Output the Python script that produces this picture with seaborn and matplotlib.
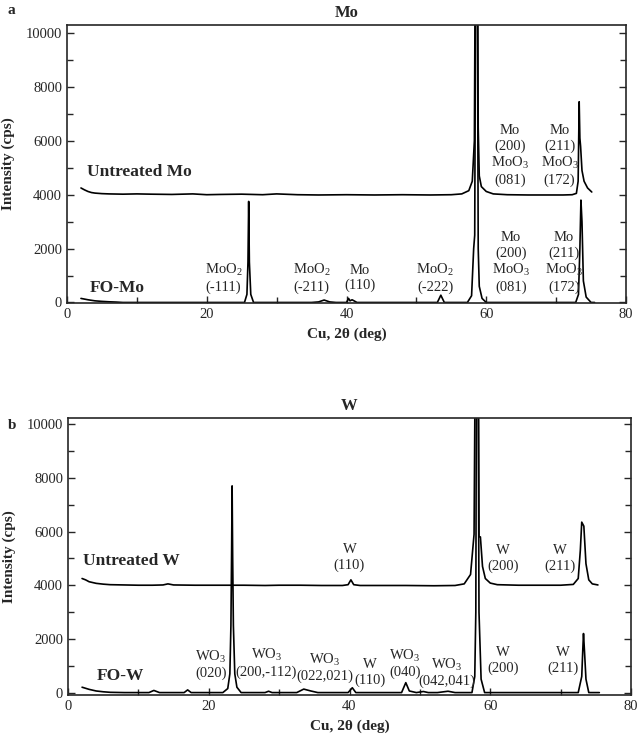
import numpy as np
import pandas as pd
import seaborn as sns
import matplotlib.pyplot as plt
from matplotlib.ticker import MultipleLocator

# XRD traces (2theta in deg, intensity in cps)
mo_raw_x = [2.0, 2.5, 3.0, 3.5, 4.0, 5.0, 6.0, 8.0, 10.0, 12.0, 15.0, 18.0, 20.0, 22.0, 25.0, 28.0, 30.0,
            33.0, 36.0, 40.0, 44.0, 48.0, 52.0, 55.0, 56.5, 57.5, 58.0, 58.3, 58.45, 58.55, 58.75, 58.85,
            59.0, 59.3, 60.0, 61.0, 63.0, 66.0, 69.0, 71.0, 72.3, 72.9, 73.15, 73.3, 73.4, 73.5, 73.7,
            74.0, 74.5, 75.1]
mo_raw_y = [4250, 4180, 4120, 4080, 4060, 4040, 4030, 4020, 4030, 4020, 4010, 4030, 4000, 4010, 4020, 4000, 4030,
            4000, 3990, 4000, 3990, 4000, 3990, 4000, 4030, 4150, 4500, 6000, 14000, 14000, 14000, 6500,
            4700, 4300, 4120, 4030, 4000, 3990, 3990, 3990, 4000, 4050, 4500, 7450, 6100, 5800, 4900,
            4500, 4250, 4100]

mo_fo_x = [2.0, 3.0, 4.0, 5.0, 6.0, 7.0, 8.0, 10.0, 15.0, 20.0, 24.0, 25.4, 25.75, 25.9, 26.0, 26.1, 26.3,
           26.7, 30.0, 35.0, 36.0, 36.8, 37.6, 38.5, 40.0, 40.3, 40.5, 40.8, 41.5, 45.0, 50.0, 53.0, 53.5,
           54.0, 56.0, 57.3, 57.9, 58.2, 58.35, 58.5, 58.7, 58.85, 59.0, 59.4, 60.0, 61.0, 65.0, 70.0,
           72.8, 73.2, 73.4, 73.55, 73.7, 73.9, 74.3, 75.0, 75.5]
mo_fo_y = [150, 100, 60, 40, 25, 15, 0, 0, 0, 0, 0, 0, 300, 1500, 3750, 1500, 300,
           0, 0, 0, 20, 90, 20, 0, 0, 150, 60, 100, 0, 0, 0, 0, 270,
           0, 0, 0, 250, 2000, 2500, 14000, 14000, 2000, 600, 150, 0, 0, 0, 0,
           0, 300, 2000, 3800, 3000, 800, 200, 0, 0]

w_raw_x = [2.0, 2.5, 3.0, 4.0, 5.0, 6.0, 8.0, 10.0, 12.0, 13.5, 14.2, 15.0, 18.0, 20.0, 22.0, 23.0, 25.0,
           28.0, 30.0, 33.0, 36.0, 39.0, 39.8, 40.2, 40.6, 41.5, 44.0, 48.0, 52.0, 55.0, 56.3, 57.2, 57.7,
           57.9, 58.0, 58.3, 58.4, 58.6, 58.9, 59.3, 60.0, 61.0, 64.0, 67.0, 70.0, 71.8, 72.5, 72.8, 73.0,
           73.3, 73.6, 74.0, 74.5, 75.3]
w_raw_y = [4250, 4200, 4130, 4070, 4040, 4020, 4010, 4000, 4000, 4010, 4050, 4010, 4000, 4000, 4000, 4000, 4000,
           3990, 4000, 4000, 3990, 3990, 4020, 4200, 4020, 3990, 3990, 3990, 3980, 3990, 4050, 4400, 5900,
           14000, 14000, 14000, 5800, 5800, 4700, 4250, 4080, 4020, 4000, 4000, 4000, 4030, 4250, 5300, 6350,
           6200, 4800, 4200, 4050, 4010]

w_fo_x = [2.0, 3.0, 4.0, 5.0, 6.0, 8.0, 11.5, 12.2, 13.0, 16.5, 17.0, 17.5, 22.0, 22.7, 23.0, 23.15, 23.25,
          23.32, 23.4, 23.5, 23.7, 24.0, 24.6, 28.0, 28.5, 29.0, 32.5, 33.5, 34.5, 35.5, 39.8, 40.4, 40.9,
          47.4, 48.0, 48.5, 49.5, 50.5, 51.2, 52.5, 54.0, 55.0, 57.4, 57.8, 57.95, 58.05, 58.25, 58.4,
          58.7, 59.2, 60.0, 65.0, 70.0, 72.5, 73.0, 73.15, 73.25, 73.4, 73.6, 74.0, 75.5]
w_fo_y = [200, 120, 60, 30, 10, 0, 0, 80, 0, 0, 100, 0, 0, 150, 700, 2500, 5300,
          7700, 5000, 2500, 700, 200, 0, 0, 50, 0, 0, 130, 60, 0, 0, 180, 0,
          0, 370, 60, 0, 40, 0, 0, 50, 0, 0, 600, 3000, 14000, 14000, 3000,
          500, 0, 0, 0, 0, 0, 600, 1600, 2200, 1500, 500, 0, 0]

# peak labels: (text, 2theta, intensity at label centre)
mo_labels = [("MoO$_2$\n(-111)", 22.4, 900), ("MoO$_2$\n(-211)", 35.0, 900),
             ("Mo\n(110)", 41.9, 900), ("MoO$_2$\n(-222)", 52.7, 900),
             ("Mo\n(200)\nMoO$_3$\n(081)", 63.4, 5450), ("Mo\n(211)\nMoO$_3$\n(172)", 70.5, 5450),
             ("Mo\n(200)\nMoO$_3$\n(081)", 63.5, 1480), ("Mo\n(211)\nMoO$_3$\n(172)", 71.1, 1480)]
w_labels = [("WO$_3$\n(020)", 20.3, 1040), ("WO$_3$\n(200,-112)", 28.2, 1100),
            ("WO$_3$\n(022,021)", 36.5, 930), ("W\n(110)", 42.9, 750),
            ("WO$_3$\n(040)", 47.9, 1080), ("WO$_3$\n(042,041)", 53.8, 750),
            ("W\n(200)", 61.8, 1200), ("W\n(211)", 70.3, 1200),
            ("W\n(110)", 40.0, 5030), ("W\n(200)", 61.8, 5000), ("W\n(211)", 69.9, 5000)]

sns.set_style('ticks')
plt.rcParams['font.family'] = ['Liberation Serif', 'DejaVu Serif']
plt.rcParams['mathtext.fontset'] = 'custom'
plt.rcParams['mathtext.rm'] = 'Liberation Serif'
plt.rcParams['mathtext.it'] = 'Liberation Serif:italic'
plt.rcParams['mathtext.bf'] = 'Liberation Serif:bold'

fig = plt.figure(figsize=(6.38, 7.46), dpi=100)
ax1 = fig.add_axes([67 / 638, 1 - 303 / 746, 559 / 638, 278 / 746])
ax2 = fig.add_axes([68 / 638, 1 - 695 / 746, 563 / 638, 277 / 746])

panels = [
    (ax1, 'Mo', mo_raw_x, mo_raw_y, mo_fo_x, mo_fo_y, mo_labels,
     ('Untreated Mo', 2.8, 4830), ('FO-Mo', 3.3, 550), (-20, 10300)),
    (ax2, 'W', w_raw_x, w_raw_y, w_fo_x, w_fo_y, w_labels,
     ('Untreated W', 2.2, 4890), ('FO-W', 4.1, 600), (-90, 10230)),
]

for ax, title, rx, ry, fx, fy, labels, raw_lab, fo_lab, ylim in panels:
    d_raw = pd.DataFrame({'theta': rx, 'cps': ry})
    d_fo = pd.DataFrame({'theta': fx, 'cps': fy})
    sns.lineplot(data=d_raw, x='theta', y='cps', ax=ax, color='black', lw=1.2,
                 estimator=None, sort=False)
    sns.lineplot(data=d_fo, x='theta', y='cps', ax=ax, color='black', lw=1.2,
                 estimator=None, sort=False)
    ax.set_xlim(0, 80)
    ax.set_ylim(*ylim)
    ax.xaxis.set_major_locator(MultipleLocator(20))
    ax.xaxis.set_minor_locator(MultipleLocator(10))
    ax.yaxis.set_major_locator(MultipleLocator(2000))
    ax.yaxis.set_minor_locator(MultipleLocator(1000))
    ax.tick_params(which='both', direction='in', right=True, top=False, labelsize=10.5)
    ax.tick_params(which='major', length=5, width=1)
    ax.tick_params(which='minor', length=4, width=1)
    for s in ax.spines.values():
        s.set_linewidth(1.2)
    ax.set_title(title, fontweight='bold', fontsize=12, pad=6)
    ax.set_xlabel('Cu, 2θ (deg)', fontweight='bold', fontsize=11, labelpad=5)
    ax.set_ylabel('Intensity (cps)', fontweight='bold', fontsize=11)
    ax.yaxis.set_label_coords(-0.093, 0.5)
    for txt, x, y in labels:
        ax.text(x, y, txt, ha='center', va='center', fontsize=10.5, linespacing=1.2)
    ax.text(raw_lab[1], raw_lab[2], raw_lab[0], ha='left', va='center',
            fontsize=12.5, fontweight='bold')
    ax.text(fo_lab[1], fo_lab[2], fo_lab[0], ha='left', va='center',
            fontsize=12.5, fontweight='bold')

fig.text(8 / 638, 1 - 10 / 746, 'a', fontweight='bold', fontsize=11, ha='left', va='center')
fig.text(8 / 638, 1 - 425 / 746, 'b', fontweight='bold', fontsize=11, ha='left', va='center')

fig.savefig('out.png', dpi=100)
